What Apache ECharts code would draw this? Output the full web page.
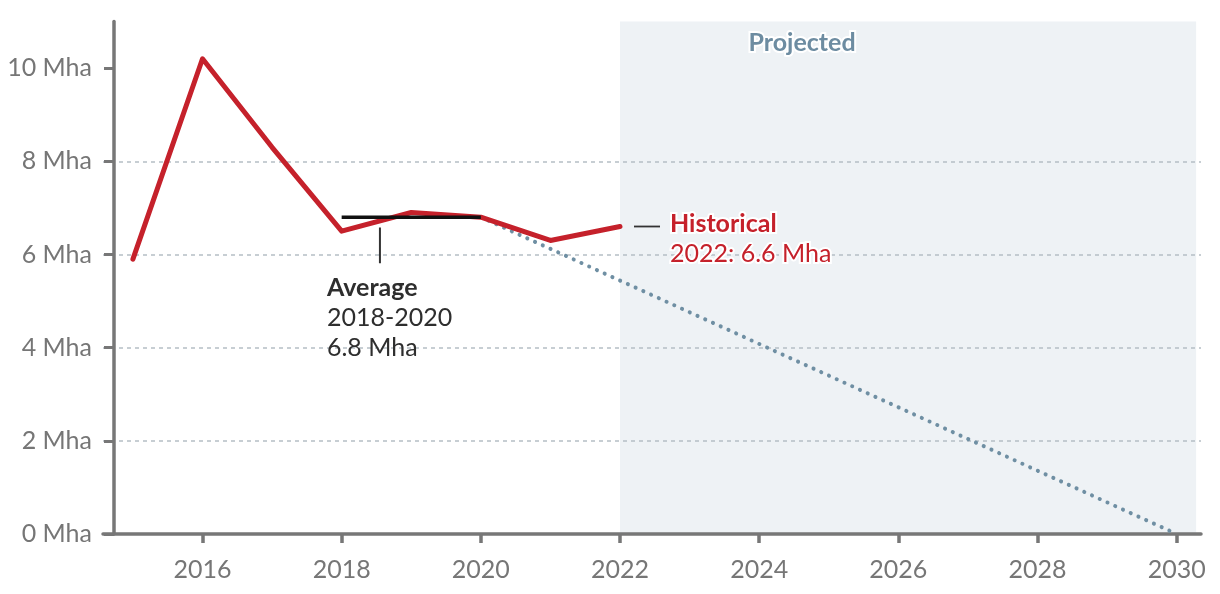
<!DOCTYPE html>
<html><head><meta charset="utf-8">
<script src="https://cdn.jsdelivr.net/npm/echarts@6/dist/echarts.min.js"></script>
<style>html,body{margin:0;padding:0;background:#fff}#c{width:1220px;height:594px}</style>
</head><body><div id="c"></div>
<script>
// ---- data ----
const years = [2015, 2016, 2017, 2018, 2019, 2020, 2021, 2022];
const historical = [5.9, 10.2, 8.3, 6.5, 6.9, 6.8, 6.3, 6.6];
const projYears = [2020, 2030];
const projected = [6.8, 0];
const avgYears = [2018, 2020];
const avgValue = 6.8;
const avgTickX = 2018.55;
const avgTickRange = [6.58, 5.81];
const xTicks = [2016, 2018, 2020, 2022, 2024, 2026, 2028, 2030];
const yTicks = [0, 2, 4, 6, 8, 10];
const projStart = 2022;
const projEnd = 2030.28;
const unit = ' Mha';

const FONT = 'Lato';
const FS = 25;
const zip = (a, b) => a.map((v, i) => [v, b[i]]);

const chart = echarts.init(document.getElementById('c'), null, {renderer: 'canvas'});
const option = {
  animation: false,
  grid: {left: 103, right: 19, top: 21.5, bottom: 60, containLabel: false},
  xAxis: {
    type: 'value', min: 2014.57, max: 2030.35, z: 2,
    axisLine: {show: true, lineStyle: {color: '#777', width: 3.5}},
    axisTick: {show: true, length: 9, customValues: xTicks, lineStyle: {color: '#777', width: 3.5}},
    axisLabel: {customValues: xTicks, color: '#767676', fontSize: FS, fontFamily: FONT, margin: 23,
      formatter: v => String(v)},
    splitLine: {show: false}
  },
  yAxis: {
    type: 'value', min: 0, max: 11, interval: 2, offset: -11, z: 2,
    axisLine: {show: true, lineStyle: {color: '#777', width: 3.5}},
    axisTick: {show: true, length: 10, customValues: yTicks, lineStyle: {color: '#777', width: 3}},
    axisLabel: {customValues: yTicks, color: '#767676', fontSize: FS, fontFamily: FONT, margin: 22,
      formatter: v => v + unit},
    splitLine: {show: true, showMinLine: false, showMaxLine: false,
      lineStyle: {color: '#b5bec5', type: [4, 4], width: 1.5}}
  },
  series: [
    {
      type: 'line', z: 0, zlevel: 0, data: [], silent: true,
      markArea: {
        silent: true, z: -10,
        itemStyle: {color: '#eef2f5'},
        label: {show: true, position: 'insideTop', distance: 9, offset: [-106, 0],
          formatter: 'Projected', color: '#6d8ca1', fontSize: FS, fontWeight: 'bold', fontFamily: FONT,
          textBorderColor: '#fff', textBorderWidth: 4},
        data: [[{xAxis: projStart}, {xAxis: projEnd}]]
      }
    },
    {
      type: 'line', z: 5, data: zip(projYears, projected), symbol: 'none', silent: true,
      lineStyle: {color: '#6f8fa3', width: 4, type: [0.1, 8.4], cap: 'round'}
    },
    {
      type: 'line', z: 6, data: zip(years, historical), symbol: 'none', silent: true,
      lineStyle: {color: '#c5212b', width: 5, cap: 'round', join: 'round'}
    },
    {
      type: 'line', z: 7, data: avgYears.map(y => [y, avgValue]), symbol: 'none', silent: true,
      lineStyle: {color: '#111', width: 3.5}
    },
    {
      type: 'line', z: 7, data: avgTickRange.map(v => [avgTickX, v]), symbol: 'none', silent: true,
      lineStyle: {color: '#333', width: 2}
    }
  ]
};
chart.setOption(option);

const px = (x, y) => chart.convertToPixel({gridIndex: 0}, [x, y]);
const tb = px(avgTickX, avgTickRange[1]);
const lastY = years[years.length - 1], lastV = historical[historical.length - 1];
const hp = px(lastY, lastV);
chart.setOption({
  graphic: [
    {type: 'text', z: 100, x: tb[0] - 53, y: tb[1] + 10, silent: true,
      style: {text: '{b|Average}\n' + avgYears[0] + '-' + avgYears[1] + '\n' + avgValue.toFixed(1) + unit,
        fill: '#2e2e2e', fontSize: FS, fontFamily: FONT, lineHeight: 30, verticalAlign: 'top', align: 'left',
        rich: {b: {fontWeight: 'bold', fontSize: FS, fontFamily: FONT, lineHeight: 30, fill: '#2e2e2e'}}}},
    {type: 'line', z: 100, silent: true, shape: {x1: hp[0] + 14, y1: hp[1], x2: hp[0] + 40, y2: hp[1]},
      style: {stroke: '#333', lineWidth: 1.8}},
    {type: 'text', z: 100, x: hp[0] + 50, y: hp[1] - 18, silent: true,
      style: {text: '{b|Historical}\n' + lastY + ': ' + lastV.toFixed(1) + unit,
        fill: '#c5212b', fontSize: FS, fontFamily: FONT, lineHeight: 30, verticalAlign: 'top', align: 'left',
        stroke: '#fff', lineWidth: 4,
        rich: {b: {fontWeight: 'bold', fontSize: FS, fontFamily: FONT, lineHeight: 30, fill: '#c5212b',
          stroke: '#fff', lineWidth: 4}}}}
  ]
});
</script></body></html>
